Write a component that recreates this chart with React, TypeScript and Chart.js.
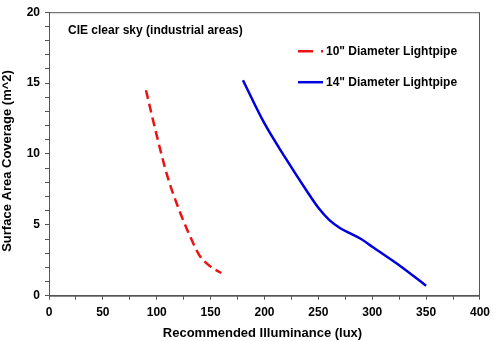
import React, { useEffect, useRef } from "react";
import { Chart, registerables } from "chart.js";

Chart.register(...registerables);

const redX = [90, 100, 110, 120, 130, 140, 150, 160];
const redY = [14.5, 11.3, 8.4, 6.2, 4.35, 2.8, 2.05, 1.6];
const blueX = [180, 200, 220, 240, 250, 260, 270, 280, 290, 300, 325, 350];
const blueY = [15.2, 12.15, 9.65, 7.3, 6.2, 5.35, 4.78, 4.38, 3.98, 3.45, 2.15, 0.7];

const chartTitle = "CIE clear sky (industrial areas)";
const redLabel = '10" Diameter Lightpipe';
const blueLabel = '14" Diameter Lightpipe';
const xTitle = "Recommended Illuminance (lux)";
const yTitle = "Surface Area Coverage (m^2)";

const RED = "rgb(235,20,20)";
const BLUE = "rgb(0,0,220)";
const FONT = "Liberation Sans, Arial, sans-serif";

const decorPlugin = {
  id: "decor",
  afterDraw(chart: any) {
    const { ctx, chartArea } = chart;
    const { left, right, top, bottom } = chartArea;
    ctx.save();
    // frame
    ctx.strokeStyle = "#555";
    ctx.lineWidth = 1;
    ctx.strokeRect(left + 0.5, top + 0.5, right - left - 1, bottom - top);
    // title
    ctx.fillStyle = "#000";
    ctx.font = `bold 12px ${FONT}`;
    ctx.textBaseline = "middle";
    ctx.textAlign = "left";
    ctx.fillText(chartTitle, left + 19, top + 18.5);
    // legend
    const lx0 = left + 249;
    const lx1 = left + 274;
    const ly1 = top + 39;
    const ly2 = top + 70;
    ctx.lineWidth = 2.5;
    ctx.strokeStyle = RED;
    ctx.setLineDash([15, 8]);
    ctx.beginPath();
    ctx.moveTo(lx0, ly1);
    ctx.lineTo(lx1, ly1);
    ctx.stroke();
    ctx.setLineDash([]);
    ctx.strokeStyle = BLUE;
    ctx.beginPath();
    ctx.moveTo(lx0, ly2);
    ctx.lineTo(lx1, ly2);
    ctx.stroke();
    ctx.fillStyle = "#000";
    ctx.fillText(redLabel, lx1 + 3, ly1);
    ctx.fillText(blueLabel, lx1 + 3, ly2);
    // axis titles
    ctx.font = `bold 13px ${FONT}`;
    ctx.textAlign = "center";
    ctx.fillText(xTitle, (left + right) / 2 - 2, 333);
    ctx.translate(7, (top + bottom) / 2 + 7);
    ctx.rotate(-Math.PI / 2);
    ctx.fillText(yTitle, 0, 0);
    ctx.restore();
  },
};

export default function App() {
  const ref = useRef<HTMLCanvasElement>(null);
  useEffect(() => {
    document.body.style.margin = "0";
    const canvas = ref.current!;
    const chart = new Chart(canvas, {
      type: "line",
      data: {
        datasets: [
          {
            label: redLabel,
            data: redX.map((x, i) => ({ x, y: redY[i] })),
            borderColor: RED,
            borderWidth: 2.5,
            borderDash: [9, 5],
            pointRadius: 0,
            cubicInterpolationMode: "monotone",
            fill: false,
          },
          {
            label: blueLabel,
            data: blueX.map((x, i) => ({ x, y: blueY[i] })),
            borderColor: BLUE,
            borderWidth: 2.5,
            pointRadius: 0,
            cubicInterpolationMode: "monotone",
            fill: false,
          },
        ],
      },
      options: {
        animation: false,
        responsive: false,
        devicePixelRatio: 1,
        layout: { padding: { left: 0, top: 9, right: 12.5, bottom: 0 } },
        plugins: { legend: { display: false }, tooltip: { enabled: false } },
        scales: {
          x: {
            type: "linear",
            min: 0,
            max: 400,
            afterFit: (s: any) => {
              s.height = 45.3;
            },
            ticks: {
              stepSize: 25,
              autoSkip: false,
              maxRotation: 0,
              padding: 6,
              color: "#000",
              font: { family: FONT, size: 12, weight: "bold" },
              callback: (v: any) => (Number(v) % 50 === 0 ? String(v) : ""),
            },
            grid: { drawOnChartArea: false, drawTicks: true, tickLength: 4, color: "#555" },
            border: { color: "#555" },
          },
          y: {
            type: "linear",
            min: 0,
            max: 20,
            afterFit: (s: any) => {
              s.width = 49;
            },
            ticks: {
              stepSize: 1,
              autoSkip: false,
              padding: 5,
              color: "#000",
              font: { family: FONT, size: 12, weight: "bold" },
              callback: (v: any) => (Number(v) % 5 === 0 ? String(v) : ""),
            },
            grid: { drawOnChartArea: false, drawTicks: true, tickLength: 4, color: "#555" },
            border: { color: "#555" },
          },
        },
      },
      plugins: [decorPlugin],
    } as any);
    return () => chart.destroy();
  }, []);
  return <canvas ref={ref} width={496} height={341} style={{ display: "block" }} />;
}
